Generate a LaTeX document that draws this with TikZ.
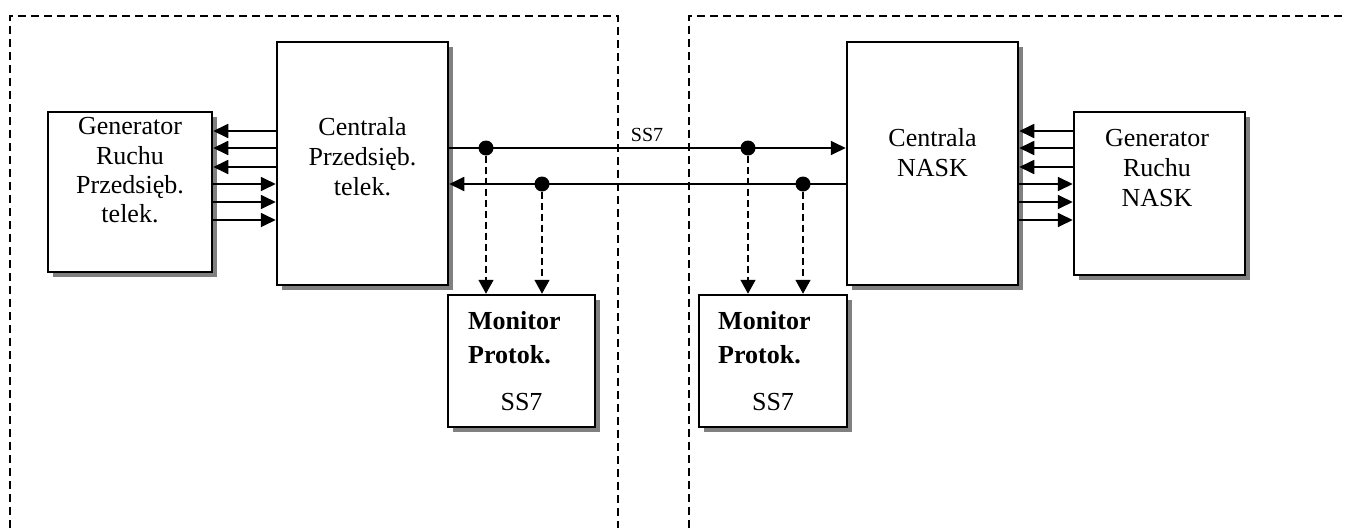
\documentclass[tikz,border=0pt]{standalone}
\usepackage{fontspec}
\setmainfont{Liberation Serif}
\usetikzlibrary{arrows.meta,shadows}
\begin{document}
\begin{tikzpicture}[x=1pt,y=-1pt,
  box/.style={draw,line width=2.5pt,fill=white,inner sep=0pt,
    drop shadow={shadow xshift=5pt,shadow yshift=-5pt,fill=black!50,opacity=1}},
  txt/.style={anchor=base,inner sep=0pt,font=\fontsize{26}{30}\selectfont},
  btxt/.style={anchor=base west,inner sep=0pt,font=\fontsize{26}{30}\selectfont\bfseries},
  region/.style={line width=1.6pt,dash pattern=on 8pt off 5pt},
  arr/.style={line width=1.8pt,-{Triangle[length=15pt,width=14pt]}},
  darr/.style={line width=1.6pt,dash pattern=on 7pt off 4pt,-{Triangle[length=14pt,width=15pt]}},
  dot/.style={circle,fill=black,inner sep=0pt,minimum size=15pt}]
\useasboundingbox (0,0) rectangle (1347,528);
% regions
\draw[region] (10,528) -- (10,16) -- (618,16) -- (618,528);
\draw[region] (689,528) -- (689,16) -- (1347,16);
% boxes
\node[box,minimum width=164pt,minimum height=160pt] (gl) at (130,192) {};
\node[box,minimum width=171pt,minimum height=243pt] (cl) at (362.5,163.5) {};
\node[box,minimum width=171pt,minimum height=243pt] (cr) at (932.5,163.5) {};
\node[box,minimum width=171pt,minimum height=163pt] (gr) at (1159.5,193.5) {};
\node[box,minimum width=147pt,minimum height=132pt] (ml) at (521.5,361) {};
\node[box,minimum width=148pt,minimum height=132pt] (mr) at (773,361) {};
% texts
\node[txt] (gl1) at (130,134) {Generator};
\node[txt] (gl2) at (130,164) {Ruchu};
\node[txt] (gl3) at (130,193) {Przedsięb.};
\node[txt] (gl4) at (130,222) {telek.};
\node[txt] (cl1) at (362.5,135) {Centrala};
\node[txt] (cl2) at (362.5,165) {Przedsięb.};
\node[txt] (cl3) at (362.5,195) {telek.};
\node[txt] (cr1) at (932.5,146) {Centrala};
\node[txt] (cr2) at (932.5,176) {NASK};
\node[txt] (gr1) at (1157,146) {Generator};
\node[txt] (gr2) at (1157,176) {Ruchu};
\node[txt] (gr3) at (1157,206) {NASK};
\node[btxt] (ml1) at (468,329) {Monitor};
\node[btxt] (ml2) at (468,363) {Protok.};
\node[txt] (ml3) at (521.5,410) {SS7};
\node[btxt] (mr1) at (718,329) {Monitor};
\node[btxt] (mr2) at (718,363) {Protok.};
\node[txt] (mr3) at (773,410) {SS7};
\node[anchor=base,inner sep=0pt,font=\fontsize{20}{23}\selectfont] (ss) at (647,141) {SS7};
% row coordinates
\coordinate (r1) at (0,131);
\coordinate (r2) at (0,148);
\coordinate (r3) at (0,167);
\coordinate (r4) at (0,184);
\coordinate (r5) at (0,202);
\coordinate (r6) at (0,220);
% left side arrows
\draw[arr] (cl.west |- r1) -- (gl.east |- r1);
\draw[arr] (cl.west |- r2) -- (gl.east |- r2);
\draw[arr] (cl.west |- r3) -- (gl.east |- r3);
\draw[arr] (gl.east |- r4) -- (cl.west |- r4);
\draw[arr] (gl.east |- r5) -- (cl.west |- r5);
\draw[arr] (gl.east |- r6) -- (cl.west |- r6);
% right side arrows
\draw[arr] (gr.west |- r1) -- (cr.east |- r1);
\draw[arr] (gr.west |- r2) -- (cr.east |- r2);
\draw[arr] (gr.west |- r3) -- (cr.east |- r3);
\draw[arr] (cr.east |- r4) -- (gr.west |- r4);
\draw[arr] (cr.east |- r5) -- (gr.west |- r5);
\draw[arr] (cr.east |- r6) -- (gr.west |- r6);
% SS7 links
\draw[arr] (cl.east |- r2) -- (cr.west |- r2);
\draw[arr] (cr.west |- r4) -- (cl.east |- r4);
% taps
\node[dot] (d1) at (486,148) {};
\node[dot] (d2) at (542,184) {};
\node[dot] (d3) at (748,148) {};
\node[dot] (d4) at (803,184) {};
\draw[darr] (d1) -- (d1 |- ml.north);
\draw[darr] (d2) -- (d2 |- ml.north);
\draw[darr] (d3) -- (d3 |- mr.north);
\draw[darr] (d4) -- (d4 |- mr.north);
\end{tikzpicture}
\end{document}
